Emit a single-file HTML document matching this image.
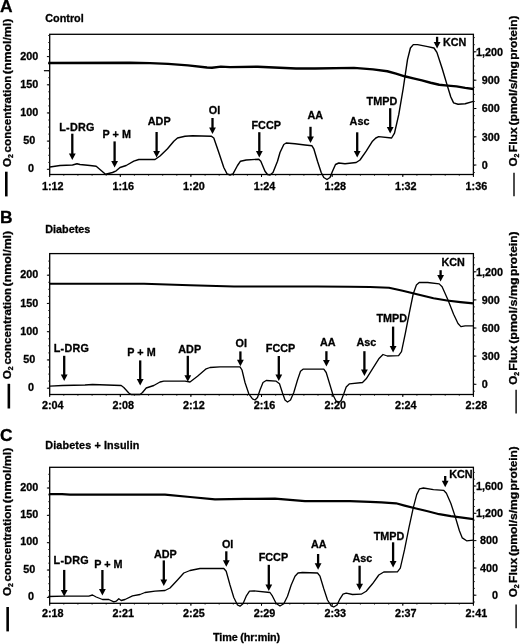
<!DOCTYPE html>
<html><head><meta charset="utf-8"><title>Figure</title>
<style>
html,body{margin:0;padding:0;background:#fff;}
svg{display:block;font-family:"Liberation Sans",Arial,Helvetica,sans-serif;font-weight:bold;fill:#000;}
text{stroke:#000;stroke-width:0.3px;stroke-linejoin:round;}
</style></head><body>
<svg width="520" height="644" viewBox="0 0 520 644">
<rect width="520" height="644" fill="#fff"/>
<text x="0.1" y="12.1" font-size="17.4">A</text>
<text x="45.3" y="22.29" text-anchor="start" font-size="10.8" >Control</text>
<rect x="49.7" y="34.3" width="423.7" height="140.2" fill="none" stroke="#000" stroke-width="1.3"/>
<line x1="46.900000000000006" y1="56.6" x2="49.7" y2="56.6" stroke="#000" stroke-width="1"/>
<text x="29.2" y="59.69" text-anchor="middle" font-size="10.8" >200</text>
<line x1="46.900000000000006" y1="84.8" x2="49.7" y2="84.8" stroke="#000" stroke-width="1"/>
<text x="29.2" y="87.89" text-anchor="middle" font-size="10.8" >150</text>
<line x1="46.900000000000006" y1="112.95" x2="49.7" y2="112.95" stroke="#000" stroke-width="1"/>
<text x="29.2" y="116.04" text-anchor="middle" font-size="10.8" >100</text>
<line x1="46.900000000000006" y1="141.1" x2="49.7" y2="141.1" stroke="#000" stroke-width="1"/>
<text x="29.2" y="144.19" text-anchor="middle" font-size="10.8" >50</text>
<line x1="46.900000000000006" y1="169.3" x2="49.7" y2="169.3" stroke="#000" stroke-width="1"/>
<text x="30.9" y="172.39" text-anchor="middle" font-size="10.8" >0</text>
<line x1="48.1" y1="35.5" x2="49.7" y2="35.5" stroke="#222" stroke-width="0.8"/>
<line x1="48.1" y1="42.5" x2="49.7" y2="42.5" stroke="#222" stroke-width="0.8"/>
<line x1="48.1" y1="49.5" x2="49.7" y2="49.5" stroke="#222" stroke-width="0.8"/>
<line x1="48.1" y1="56.6" x2="49.7" y2="56.6" stroke="#222" stroke-width="0.8"/>
<line x1="48.1" y1="63.6" x2="49.7" y2="63.6" stroke="#222" stroke-width="0.8"/>
<line x1="48.1" y1="70.7" x2="49.7" y2="70.7" stroke="#222" stroke-width="0.8"/>
<line x1="48.1" y1="77.7" x2="49.7" y2="77.7" stroke="#222" stroke-width="0.8"/>
<line x1="48.1" y1="84.8" x2="49.7" y2="84.8" stroke="#222" stroke-width="0.8"/>
<line x1="48.1" y1="91.8" x2="49.7" y2="91.8" stroke="#222" stroke-width="0.8"/>
<line x1="48.1" y1="98.9" x2="49.7" y2="98.9" stroke="#222" stroke-width="0.8"/>
<line x1="48.1" y1="105.9" x2="49.7" y2="105.9" stroke="#222" stroke-width="0.8"/>
<line x1="48.1" y1="113.0" x2="49.7" y2="113.0" stroke="#222" stroke-width="0.8"/>
<line x1="48.1" y1="120.0" x2="49.7" y2="120.0" stroke="#222" stroke-width="0.8"/>
<line x1="48.1" y1="127.1" x2="49.7" y2="127.1" stroke="#222" stroke-width="0.8"/>
<line x1="48.1" y1="134.1" x2="49.7" y2="134.1" stroke="#222" stroke-width="0.8"/>
<line x1="48.1" y1="141.2" x2="49.7" y2="141.2" stroke="#222" stroke-width="0.8"/>
<line x1="48.1" y1="148.2" x2="49.7" y2="148.2" stroke="#222" stroke-width="0.8"/>
<line x1="48.1" y1="155.3" x2="49.7" y2="155.3" stroke="#222" stroke-width="0.8"/>
<line x1="48.1" y1="162.4" x2="49.7" y2="162.4" stroke="#222" stroke-width="0.8"/>
<line x1="48.1" y1="169.4" x2="49.7" y2="169.4" stroke="#222" stroke-width="0.8"/>
<line x1="473.4" y1="51.8" x2="476.4" y2="51.8" stroke="#000" stroke-width="1"/>
<text x="476.0" y="55.69" text-anchor="start" font-size="10.8" >1,200</text>
<line x1="473.4" y1="80.2" x2="476.4" y2="80.2" stroke="#000" stroke-width="1"/>
<text x="481.7" y="84.09" text-anchor="start" font-size="10.8" >900</text>
<line x1="473.4" y1="108.5" x2="476.4" y2="108.5" stroke="#000" stroke-width="1"/>
<text x="481.7" y="112.39" text-anchor="start" font-size="10.8" >600</text>
<line x1="473.4" y1="136.8" x2="476.4" y2="136.8" stroke="#000" stroke-width="1"/>
<text x="481.7" y="140.69" text-anchor="start" font-size="10.8" >300</text>
<line x1="473.4" y1="165" x2="476.4" y2="165" stroke="#000" stroke-width="1"/>
<text x="481.7" y="168.89" text-anchor="start" font-size="10.8" >0</text>
<line x1="473.4" y1="37.6" x2="475.0" y2="37.6" stroke="#222" stroke-width="0.8"/>
<line x1="473.4" y1="44.7" x2="475.0" y2="44.7" stroke="#222" stroke-width="0.8"/>
<line x1="473.4" y1="51.8" x2="475.0" y2="51.8" stroke="#222" stroke-width="0.8"/>
<line x1="473.4" y1="58.9" x2="475.0" y2="58.9" stroke="#222" stroke-width="0.8"/>
<line x1="473.4" y1="66.0" x2="475.0" y2="66.0" stroke="#222" stroke-width="0.8"/>
<line x1="473.4" y1="73.1" x2="475.0" y2="73.1" stroke="#222" stroke-width="0.8"/>
<line x1="473.4" y1="80.2" x2="475.0" y2="80.2" stroke="#222" stroke-width="0.8"/>
<line x1="473.4" y1="87.3" x2="475.0" y2="87.3" stroke="#222" stroke-width="0.8"/>
<line x1="473.4" y1="94.4" x2="475.0" y2="94.4" stroke="#222" stroke-width="0.8"/>
<line x1="473.4" y1="101.5" x2="475.0" y2="101.5" stroke="#222" stroke-width="0.8"/>
<line x1="473.4" y1="108.6" x2="475.0" y2="108.6" stroke="#222" stroke-width="0.8"/>
<line x1="473.4" y1="115.7" x2="475.0" y2="115.7" stroke="#222" stroke-width="0.8"/>
<line x1="473.4" y1="122.8" x2="475.0" y2="122.8" stroke="#222" stroke-width="0.8"/>
<line x1="473.4" y1="129.9" x2="475.0" y2="129.9" stroke="#222" stroke-width="0.8"/>
<line x1="473.4" y1="137.0" x2="475.0" y2="137.0" stroke="#222" stroke-width="0.8"/>
<line x1="473.4" y1="144.1" x2="475.0" y2="144.1" stroke="#222" stroke-width="0.8"/>
<line x1="473.4" y1="151.2" x2="475.0" y2="151.2" stroke="#222" stroke-width="0.8"/>
<line x1="473.4" y1="158.3" x2="475.0" y2="158.3" stroke="#222" stroke-width="0.8"/>
<line x1="473.4" y1="165.4" x2="475.0" y2="165.4" stroke="#222" stroke-width="0.8"/>
<line x1="473.4" y1="172.5" x2="475.0" y2="172.5" stroke="#222" stroke-width="0.8"/>
<line x1="49.7" y1="174.5" x2="49.7" y2="177.0" stroke="#000" stroke-width="1"/>
<text x="52.7" y="189.69" text-anchor="middle" font-size="10.8" >1:12</text>
<line x1="120.3" y1="174.5" x2="120.3" y2="177.0" stroke="#000" stroke-width="1"/>
<text x="123.3" y="189.69" text-anchor="middle" font-size="10.8" >1:16</text>
<line x1="190.9" y1="174.5" x2="190.9" y2="177.0" stroke="#000" stroke-width="1"/>
<text x="193.9" y="189.69" text-anchor="middle" font-size="10.8" >1:20</text>
<line x1="261.5" y1="174.5" x2="261.5" y2="177.0" stroke="#000" stroke-width="1"/>
<text x="264.5" y="189.69" text-anchor="middle" font-size="10.8" >1:24</text>
<line x1="332.2" y1="174.5" x2="332.2" y2="177.0" stroke="#000" stroke-width="1"/>
<text x="335.2" y="189.69" text-anchor="middle" font-size="10.8" >1:28</text>
<line x1="402.8" y1="174.5" x2="402.8" y2="177.0" stroke="#000" stroke-width="1"/>
<text x="405.8" y="189.69" text-anchor="middle" font-size="10.8" >1:32</text>
<line x1="473.4" y1="174.5" x2="473.4" y2="177.0" stroke="#000" stroke-width="1"/>
<text x="476.4" y="189.69" text-anchor="middle" font-size="10.8" >1:36</text>
<line x1="49.7" y1="174.5" x2="49.7" y2="176.0" stroke="#000" stroke-width="0.6"/>
<line x1="63.8" y1="174.5" x2="63.8" y2="176.0" stroke="#000" stroke-width="0.6"/>
<line x1="77.9" y1="174.5" x2="77.9" y2="176.0" stroke="#000" stroke-width="0.6"/>
<line x1="92.1" y1="174.5" x2="92.1" y2="176.0" stroke="#000" stroke-width="0.6"/>
<line x1="106.2" y1="174.5" x2="106.2" y2="176.0" stroke="#000" stroke-width="0.6"/>
<line x1="120.3" y1="174.5" x2="120.3" y2="176.0" stroke="#000" stroke-width="0.6"/>
<line x1="134.4" y1="174.5" x2="134.4" y2="176.0" stroke="#000" stroke-width="0.6"/>
<line x1="148.6" y1="174.5" x2="148.6" y2="176.0" stroke="#000" stroke-width="0.6"/>
<line x1="162.7" y1="174.5" x2="162.7" y2="176.0" stroke="#000" stroke-width="0.6"/>
<line x1="176.8" y1="174.5" x2="176.8" y2="176.0" stroke="#000" stroke-width="0.6"/>
<line x1="190.9" y1="174.5" x2="190.9" y2="176.0" stroke="#000" stroke-width="0.6"/>
<line x1="205.1" y1="174.5" x2="205.1" y2="176.0" stroke="#000" stroke-width="0.6"/>
<line x1="219.2" y1="174.5" x2="219.2" y2="176.0" stroke="#000" stroke-width="0.6"/>
<line x1="233.3" y1="174.5" x2="233.3" y2="176.0" stroke="#000" stroke-width="0.6"/>
<line x1="247.4" y1="174.5" x2="247.4" y2="176.0" stroke="#000" stroke-width="0.6"/>
<line x1="261.6" y1="174.5" x2="261.6" y2="176.0" stroke="#000" stroke-width="0.6"/>
<line x1="275.7" y1="174.5" x2="275.7" y2="176.0" stroke="#000" stroke-width="0.6"/>
<line x1="289.8" y1="174.5" x2="289.8" y2="176.0" stroke="#000" stroke-width="0.6"/>
<line x1="303.9" y1="174.5" x2="303.9" y2="176.0" stroke="#000" stroke-width="0.6"/>
<line x1="318.0" y1="174.5" x2="318.0" y2="176.0" stroke="#000" stroke-width="0.6"/>
<line x1="332.2" y1="174.5" x2="332.2" y2="176.0" stroke="#000" stroke-width="0.6"/>
<line x1="346.3" y1="174.5" x2="346.3" y2="176.0" stroke="#000" stroke-width="0.6"/>
<line x1="360.4" y1="174.5" x2="360.4" y2="176.0" stroke="#000" stroke-width="0.6"/>
<line x1="374.5" y1="174.5" x2="374.5" y2="176.0" stroke="#000" stroke-width="0.6"/>
<line x1="388.7" y1="174.5" x2="388.7" y2="176.0" stroke="#000" stroke-width="0.6"/>
<line x1="402.8" y1="174.5" x2="402.8" y2="176.0" stroke="#000" stroke-width="0.6"/>
<line x1="416.9" y1="174.5" x2="416.9" y2="176.0" stroke="#000" stroke-width="0.6"/>
<line x1="431.0" y1="174.5" x2="431.0" y2="176.0" stroke="#000" stroke-width="0.6"/>
<line x1="445.2" y1="174.5" x2="445.2" y2="176.0" stroke="#000" stroke-width="0.6"/>
<line x1="459.3" y1="174.5" x2="459.3" y2="176.0" stroke="#000" stroke-width="0.6"/>
<line x1="473.4" y1="174.5" x2="473.4" y2="176.0" stroke="#000" stroke-width="0.6"/>
<polyline points="48.2,62.9 130.0,62.7 150.0,63.1 168.0,63.9 188.0,65.4 207.0,67.5 212.0,67.8 221.0,66.6 230.0,67.1 257.7,66.7 296.0,68.5 315.0,68.5 354.0,67.9 373.0,69.4 387.3,71.2 396.0,73.6 404.6,76.3 413.3,78.4 421.9,80.4 430.6,82.7 439.2,84.7 447.9,85.6 456.5,86.4 465.2,87.9 473.3,89.0" fill="none" stroke="#000" stroke-width="2.45" stroke-linejoin="round"/>
<polyline points="50.0,167.0 60.0,165.5 72.5,165.0 77.0,163.8 80.0,164.5 90.0,165.5 96.2,166.2 105.5,174.2 112.5,172.5 116.2,170.8 120.0,167.5 126.2,165.5 133.8,161.2 138.8,159.5 155.0,159.5 160.0,156.0 167.5,148.8 173.8,141.2 177.5,138.0 185.0,136.2 192.5,135.8 211.2,136.2 213.8,138.0 218.8,152.5 223.8,167.5 227.0,173.8 230.0,175.0 233.0,173.8 237.5,165.5 240.5,161.2 246.2,160.0 258.8,159.2 260.8,161.2 265.0,171.2 267.5,174.5 270.0,175.0 273.0,172.5 277.5,161.2 280.0,152.5 283.8,144.5 286.2,143.0 295.0,143.8 305.0,145.0 312.0,145.8 313.8,148.8 317.5,161.2 321.2,172.5 323.8,177.5 327.0,179.5 330.0,177.5 332.5,171.2 335.5,164.5 338.8,163.0 345.0,163.8 356.2,162.5 360.0,160.0 366.2,151.2 372.5,141.2 375.8,138.0 378.7,136.6 391.6,138.0 394.5,133.2 398.8,114.4 403.2,88.5 407.5,59.6 410.4,48.0 413.3,44.6 417.6,44.6 427.7,46.6 434.0,48.0 436.9,52.4 442.1,68.3 447.3,85.6 450.8,97.0 453.6,102.9 458.0,104.3 465.2,103.7 473.3,101.4" fill="none" stroke="#000" stroke-width="1.42" stroke-linejoin="round"/>
<text x="76.9" y="130.89" text-anchor="middle" font-size="10.8" letter-spacing="0.2">L-DRG</text>
<line x1="72.3" y1="133.7" x2="72.3" y2="155.4" stroke="#000" stroke-width="2.3"/><polygon points="68.89999999999999,153.50 75.7,153.50 72.3,160.00" fill="#000"/>
<text x="116.75" y="138.39" text-anchor="middle" font-size="10.8" >P + M</text>
<line x1="114.6" y1="141.4" x2="114.6" y2="162.8" stroke="#000" stroke-width="2.3"/><polygon points="111.19999999999999,160.90 118.0,160.90 114.6,167.40" fill="#000"/>
<text x="159.2" y="124.59" text-anchor="middle" font-size="10.8" >ADP</text>
<line x1="156.6" y1="132" x2="156.6" y2="153" stroke="#000" stroke-width="2.3"/><polygon points="153.2,151.10 160.0,151.10 156.6,157.60" fill="#000"/>
<text x="214.5" y="114.39" text-anchor="middle" font-size="10.8" >OI</text>
<line x1="212.5" y1="118" x2="212.5" y2="129.5" stroke="#000" stroke-width="2.3"/><polygon points="209.1,127.60 215.9,127.60 212.5,134.10" fill="#000"/>
<text x="266.2" y="128.69" text-anchor="middle" font-size="10.8" >FCCP</text>
<line x1="259.3" y1="132.2" x2="259.3" y2="152.9" stroke="#000" stroke-width="2.3"/><polygon points="255.9,151.00 262.7,151.00 259.3,157.50" fill="#000"/>
<text x="315.2" y="119.49" text-anchor="middle" font-size="10.8" >AA</text>
<line x1="310.5" y1="126.8" x2="310.5" y2="138.3" stroke="#000" stroke-width="2.3"/><polygon points="307.1,136.40 313.9,136.40 310.5,142.90" fill="#000"/>
<text x="359.5" y="124.59" text-anchor="middle" font-size="10.8" >Asc</text>
<line x1="357.2" y1="132.3" x2="357.2" y2="152.9" stroke="#000" stroke-width="2.3"/><polygon points="353.8,151.00 360.59999999999997,151.00 357.2,157.50" fill="#000"/>
<text x="381.9" y="105.09" text-anchor="middle" font-size="10.8" >TMPD</text>
<line x1="390.2" y1="108.2" x2="390.2" y2="128.8" stroke="#000" stroke-width="2.3"/><polygon points="386.8,126.90 393.59999999999997,126.90 390.2,133.40" fill="#000"/>
<text x="443" y="45.79" text-anchor="start" font-size="10.8" >KCN</text>
<line x1="437.1" y1="36.8" x2="437.1" y2="43.8" stroke="#000" stroke-width="2.3"/><polygon points="433.70000000000005,41.90 440.5,41.90 437.1,48.40" fill="#000"/>
<text transform="translate(10.9,167.00) rotate(-90) scale(1.07,1)" font-size="10.8">O<tspan font-size="6.5" dy="2.2">2</tspan></text>
<text transform="translate(10.9,152.40) rotate(-90) scale(1.076,1)" font-size="10.8">concentration</text>
<text transform="translate(10.9,74.20) rotate(-90) scale(1.145,1)" font-size="10.8">(nmol/ml)</text>
<line x1="6.3" y1="171.7" x2="6.3" y2="196.4" stroke="#000" stroke-width="2.6"/>
<text transform="translate(517.1,166.60) rotate(-90) scale(1.07,1)" font-size="10.8">O<tspan font-size="6.5" dy="2.2">2</tspan></text>
<text transform="translate(517.1,152.30) rotate(-90) scale(1.13,1)" font-size="10.8">Flux</text>
<text transform="translate(517.1,125.50) rotate(-90) scale(1.118,1)" font-size="10.8">(pmol/s/mg</text>
<text transform="translate(517.1,59.80) rotate(-90) scale(1.1,1)" font-size="10.8">protein)</text>
<line x1="514" y1="172.8" x2="514" y2="196.3" stroke="#000" stroke-width="1.4"/>
<line x1="43.9" y1="70.7" x2="49.7" y2="70.7" stroke="#000" stroke-width="1.2"/>
<text x="0.1" y="223.1" font-size="17.4">B</text>
<text x="45.3" y="232.89" text-anchor="start" font-size="10.8" >Diabetes</text>
<rect x="49.7" y="253.6" width="423.7" height="140.9" fill="none" stroke="#000" stroke-width="1.3"/>
<line x1="46.900000000000006" y1="275.2" x2="49.7" y2="275.2" stroke="#000" stroke-width="1"/>
<text x="29.2" y="278.39" text-anchor="middle" font-size="10.8" >200</text>
<line x1="46.900000000000006" y1="303.45" x2="49.7" y2="303.45" stroke="#000" stroke-width="1"/>
<text x="29.2" y="306.64" text-anchor="middle" font-size="10.8" >150</text>
<line x1="46.900000000000006" y1="331.7" x2="49.7" y2="331.7" stroke="#000" stroke-width="1"/>
<text x="29.2" y="334.89" text-anchor="middle" font-size="10.8" >100</text>
<line x1="46.900000000000006" y1="359.95" x2="49.7" y2="359.95" stroke="#000" stroke-width="1"/>
<text x="29.2" y="363.14" text-anchor="middle" font-size="10.8" >50</text>
<line x1="46.900000000000006" y1="388.2" x2="49.7" y2="388.2" stroke="#000" stroke-width="1"/>
<text x="30.9" y="391.39" text-anchor="middle" font-size="10.8" >0</text>
<line x1="48.1" y1="261.1" x2="49.7" y2="261.1" stroke="#222" stroke-width="0.8"/>
<line x1="48.1" y1="268.1" x2="49.7" y2="268.1" stroke="#222" stroke-width="0.8"/>
<line x1="48.1" y1="275.2" x2="49.7" y2="275.2" stroke="#222" stroke-width="0.8"/>
<line x1="48.1" y1="282.3" x2="49.7" y2="282.3" stroke="#222" stroke-width="0.8"/>
<line x1="48.1" y1="289.3" x2="49.7" y2="289.3" stroke="#222" stroke-width="0.8"/>
<line x1="48.1" y1="296.4" x2="49.7" y2="296.4" stroke="#222" stroke-width="0.8"/>
<line x1="48.1" y1="303.4" x2="49.7" y2="303.4" stroke="#222" stroke-width="0.8"/>
<line x1="48.1" y1="310.5" x2="49.7" y2="310.5" stroke="#222" stroke-width="0.8"/>
<line x1="48.1" y1="317.6" x2="49.7" y2="317.6" stroke="#222" stroke-width="0.8"/>
<line x1="48.1" y1="324.6" x2="49.7" y2="324.6" stroke="#222" stroke-width="0.8"/>
<line x1="48.1" y1="331.7" x2="49.7" y2="331.7" stroke="#222" stroke-width="0.8"/>
<line x1="48.1" y1="338.8" x2="49.7" y2="338.8" stroke="#222" stroke-width="0.8"/>
<line x1="48.1" y1="345.8" x2="49.7" y2="345.8" stroke="#222" stroke-width="0.8"/>
<line x1="48.1" y1="352.9" x2="49.7" y2="352.9" stroke="#222" stroke-width="0.8"/>
<line x1="48.1" y1="359.9" x2="49.7" y2="359.9" stroke="#222" stroke-width="0.8"/>
<line x1="48.1" y1="367.0" x2="49.7" y2="367.0" stroke="#222" stroke-width="0.8"/>
<line x1="48.1" y1="374.1" x2="49.7" y2="374.1" stroke="#222" stroke-width="0.8"/>
<line x1="48.1" y1="381.1" x2="49.7" y2="381.1" stroke="#222" stroke-width="0.8"/>
<line x1="48.1" y1="388.2" x2="49.7" y2="388.2" stroke="#222" stroke-width="0.8"/>
<line x1="473.4" y1="271.8" x2="476.4" y2="271.8" stroke="#000" stroke-width="1"/>
<text x="476.0" y="275.69" text-anchor="start" font-size="10.8" >1,200</text>
<line x1="473.4" y1="299.9" x2="476.4" y2="299.9" stroke="#000" stroke-width="1"/>
<text x="481.7" y="303.79" text-anchor="start" font-size="10.8" >900</text>
<line x1="473.4" y1="328" x2="476.4" y2="328" stroke="#000" stroke-width="1"/>
<text x="481.7" y="331.89" text-anchor="start" font-size="10.8" >600</text>
<line x1="473.4" y1="356.1" x2="476.4" y2="356.1" stroke="#000" stroke-width="1"/>
<text x="481.7" y="359.99" text-anchor="start" font-size="10.8" >300</text>
<line x1="473.4" y1="384.3" x2="476.4" y2="384.3" stroke="#000" stroke-width="1"/>
<text x="481.7" y="388.19" text-anchor="start" font-size="10.8" >0</text>
<line x1="473.4" y1="257.8" x2="475.0" y2="257.8" stroke="#222" stroke-width="0.8"/>
<line x1="473.4" y1="264.8" x2="475.0" y2="264.8" stroke="#222" stroke-width="0.8"/>
<line x1="473.4" y1="271.8" x2="475.0" y2="271.8" stroke="#222" stroke-width="0.8"/>
<line x1="473.4" y1="278.8" x2="475.0" y2="278.8" stroke="#222" stroke-width="0.8"/>
<line x1="473.4" y1="285.8" x2="475.0" y2="285.8" stroke="#222" stroke-width="0.8"/>
<line x1="473.4" y1="292.9" x2="475.0" y2="292.9" stroke="#222" stroke-width="0.8"/>
<line x1="473.4" y1="299.9" x2="475.0" y2="299.9" stroke="#222" stroke-width="0.8"/>
<line x1="473.4" y1="306.9" x2="475.0" y2="306.9" stroke="#222" stroke-width="0.8"/>
<line x1="473.4" y1="313.9" x2="475.0" y2="313.9" stroke="#222" stroke-width="0.8"/>
<line x1="473.4" y1="321.0" x2="475.0" y2="321.0" stroke="#222" stroke-width="0.8"/>
<line x1="473.4" y1="328.0" x2="475.0" y2="328.0" stroke="#222" stroke-width="0.8"/>
<line x1="473.4" y1="335.0" x2="475.0" y2="335.0" stroke="#222" stroke-width="0.8"/>
<line x1="473.4" y1="342.0" x2="475.0" y2="342.0" stroke="#222" stroke-width="0.8"/>
<line x1="473.4" y1="349.1" x2="475.0" y2="349.1" stroke="#222" stroke-width="0.8"/>
<line x1="473.4" y1="356.1" x2="475.0" y2="356.1" stroke="#222" stroke-width="0.8"/>
<line x1="473.4" y1="363.1" x2="475.0" y2="363.1" stroke="#222" stroke-width="0.8"/>
<line x1="473.4" y1="370.1" x2="475.0" y2="370.1" stroke="#222" stroke-width="0.8"/>
<line x1="473.4" y1="377.2" x2="475.0" y2="377.2" stroke="#222" stroke-width="0.8"/>
<line x1="473.4" y1="384.2" x2="475.0" y2="384.2" stroke="#222" stroke-width="0.8"/>
<line x1="473.4" y1="391.2" x2="475.0" y2="391.2" stroke="#222" stroke-width="0.8"/>
<line x1="49.7" y1="394.5" x2="49.7" y2="397.0" stroke="#000" stroke-width="1"/>
<text x="52.7" y="409.19" text-anchor="middle" font-size="10.8" >2:04</text>
<line x1="120.3" y1="394.5" x2="120.3" y2="397.0" stroke="#000" stroke-width="1"/>
<text x="123.3" y="409.19" text-anchor="middle" font-size="10.8" >2:08</text>
<line x1="190.9" y1="394.5" x2="190.9" y2="397.0" stroke="#000" stroke-width="1"/>
<text x="193.9" y="409.19" text-anchor="middle" font-size="10.8" >2:12</text>
<line x1="261.5" y1="394.5" x2="261.5" y2="397.0" stroke="#000" stroke-width="1"/>
<text x="264.5" y="409.19" text-anchor="middle" font-size="10.8" >2:16</text>
<line x1="332.2" y1="394.5" x2="332.2" y2="397.0" stroke="#000" stroke-width="1"/>
<text x="335.2" y="409.19" text-anchor="middle" font-size="10.8" >2:20</text>
<line x1="402.8" y1="394.5" x2="402.8" y2="397.0" stroke="#000" stroke-width="1"/>
<text x="405.8" y="409.19" text-anchor="middle" font-size="10.8" >2:24</text>
<line x1="473.4" y1="394.5" x2="473.4" y2="397.0" stroke="#000" stroke-width="1"/>
<text x="476.4" y="409.19" text-anchor="middle" font-size="10.8" >2:28</text>
<line x1="49.7" y1="394.5" x2="49.7" y2="396.0" stroke="#000" stroke-width="0.6"/>
<line x1="63.8" y1="394.5" x2="63.8" y2="396.0" stroke="#000" stroke-width="0.6"/>
<line x1="77.9" y1="394.5" x2="77.9" y2="396.0" stroke="#000" stroke-width="0.6"/>
<line x1="92.1" y1="394.5" x2="92.1" y2="396.0" stroke="#000" stroke-width="0.6"/>
<line x1="106.2" y1="394.5" x2="106.2" y2="396.0" stroke="#000" stroke-width="0.6"/>
<line x1="120.3" y1="394.5" x2="120.3" y2="396.0" stroke="#000" stroke-width="0.6"/>
<line x1="134.4" y1="394.5" x2="134.4" y2="396.0" stroke="#000" stroke-width="0.6"/>
<line x1="148.6" y1="394.5" x2="148.6" y2="396.0" stroke="#000" stroke-width="0.6"/>
<line x1="162.7" y1="394.5" x2="162.7" y2="396.0" stroke="#000" stroke-width="0.6"/>
<line x1="176.8" y1="394.5" x2="176.8" y2="396.0" stroke="#000" stroke-width="0.6"/>
<line x1="190.9" y1="394.5" x2="190.9" y2="396.0" stroke="#000" stroke-width="0.6"/>
<line x1="205.1" y1="394.5" x2="205.1" y2="396.0" stroke="#000" stroke-width="0.6"/>
<line x1="219.2" y1="394.5" x2="219.2" y2="396.0" stroke="#000" stroke-width="0.6"/>
<line x1="233.3" y1="394.5" x2="233.3" y2="396.0" stroke="#000" stroke-width="0.6"/>
<line x1="247.4" y1="394.5" x2="247.4" y2="396.0" stroke="#000" stroke-width="0.6"/>
<line x1="261.6" y1="394.5" x2="261.6" y2="396.0" stroke="#000" stroke-width="0.6"/>
<line x1="275.7" y1="394.5" x2="275.7" y2="396.0" stroke="#000" stroke-width="0.6"/>
<line x1="289.8" y1="394.5" x2="289.8" y2="396.0" stroke="#000" stroke-width="0.6"/>
<line x1="303.9" y1="394.5" x2="303.9" y2="396.0" stroke="#000" stroke-width="0.6"/>
<line x1="318.0" y1="394.5" x2="318.0" y2="396.0" stroke="#000" stroke-width="0.6"/>
<line x1="332.2" y1="394.5" x2="332.2" y2="396.0" stroke="#000" stroke-width="0.6"/>
<line x1="346.3" y1="394.5" x2="346.3" y2="396.0" stroke="#000" stroke-width="0.6"/>
<line x1="360.4" y1="394.5" x2="360.4" y2="396.0" stroke="#000" stroke-width="0.6"/>
<line x1="374.5" y1="394.5" x2="374.5" y2="396.0" stroke="#000" stroke-width="0.6"/>
<line x1="388.7" y1="394.5" x2="388.7" y2="396.0" stroke="#000" stroke-width="0.6"/>
<line x1="402.8" y1="394.5" x2="402.8" y2="396.0" stroke="#000" stroke-width="0.6"/>
<line x1="416.9" y1="394.5" x2="416.9" y2="396.0" stroke="#000" stroke-width="0.6"/>
<line x1="431.0" y1="394.5" x2="431.0" y2="396.0" stroke="#000" stroke-width="0.6"/>
<line x1="445.2" y1="394.5" x2="445.2" y2="396.0" stroke="#000" stroke-width="0.6"/>
<line x1="459.3" y1="394.5" x2="459.3" y2="396.0" stroke="#000" stroke-width="0.6"/>
<line x1="473.4" y1="394.5" x2="473.4" y2="396.0" stroke="#000" stroke-width="0.6"/>
<polyline points="49.0,283.7 144.0,283.7 190.0,285.2 234.0,286.5 317.0,286.5 350.0,286.8 370.0,287.0 389.0,287.8 402.7,290.8 418.0,294.5 433.5,298.2 447.0,300.5 460.4,302.1 473.4,303.4" fill="none" stroke="#000" stroke-width="2.15" stroke-linejoin="round"/>
<polyline points="50.0,386.2 62.5,385.5 85.0,385.0 92.5,384.5 121.2,385.5 123.8,387.5 128.8,393.0 131.2,394.5 140.0,394.5 142.5,392.5 146.2,388.0 153.8,385.5 160.0,382.0 163.8,381.2 185.0,381.2 190.0,382.0 197.5,376.2 206.2,368.8 210.0,367.5 220.0,366.8 240.0,366.8 242.0,370.0 245.0,382.5 248.8,393.8 252.5,398.8 255.0,400.0 257.5,397.5 260.0,390.0 263.0,382.5 266.2,380.5 276.2,381.2 279.5,383.8 282.5,393.0 285.0,400.0 287.5,402.0 290.5,400.0 293.8,392.5 297.5,380.0 300.5,371.2 303.0,369.2 323.8,369.2 326.2,372.5 330.0,385.0 333.0,395.0 336.2,401.2 338.8,402.5 341.2,400.5 343.8,393.8 346.2,387.0 349.5,383.8 362.5,382.5 366.2,378.8 372.5,368.8 378.8,358.8 383.0,354.5 387.3,356.0 398.6,355.6 401.5,351.6 405.4,333.0 409.3,313.0 413.2,294.0 416.4,285.0 419.2,282.5 427.7,282.5 439.2,283.9 442.1,286.8 447.9,299.8 453.6,314.2 458.0,323.5 460.9,326.6 465.2,325.8 473.3,325.8" fill="none" stroke="#000" stroke-width="1.32" stroke-linejoin="round"/>
<text x="71.4" y="351.59" text-anchor="middle" font-size="10.8" letter-spacing="0.2">L-DRG</text>
<line x1="64.2" y1="355.8" x2="64.2" y2="376.5" stroke="#000" stroke-width="2.3"/><polygon points="60.800000000000004,374.60 67.60000000000001,374.60 64.2,381.10" fill="#000"/>
<text x="141.5" y="355.89" text-anchor="middle" font-size="10.8" >P + M</text>
<line x1="140.2" y1="360.4" x2="140.2" y2="381" stroke="#000" stroke-width="2.3"/><polygon points="136.79999999999998,379.10 143.6,379.10 140.2,385.60" fill="#000"/>
<text x="189.7" y="352.79" text-anchor="middle" font-size="10.8" >ADP</text>
<line x1="187.8" y1="355.8" x2="187.8" y2="377.2" stroke="#000" stroke-width="2.3"/><polygon points="184.4,375.30 191.20000000000002,375.30 187.8,381.80" fill="#000"/>
<text x="241.3" y="346.89" text-anchor="middle" font-size="10.8" >OI</text>
<line x1="240.4" y1="351.4" x2="240.4" y2="361.7" stroke="#000" stroke-width="2.3"/><polygon points="237.0,359.80 243.8,359.80 240.4,366.30" fill="#000"/>
<text x="280.5" y="351.59" text-anchor="middle" font-size="10.8" >FCCP</text>
<line x1="278.8" y1="356" x2="278.8" y2="376.5" stroke="#000" stroke-width="2.3"/><polygon points="275.40000000000003,374.60 282.2,374.60 278.8,381.10" fill="#000"/>
<text x="327.8" y="346.39" text-anchor="middle" font-size="10.8" >AA</text>
<line x1="326.4" y1="351.2" x2="326.4" y2="361.8" stroke="#000" stroke-width="2.3"/><polygon points="323.0,359.90 329.79999999999995,359.90 326.4,366.40" fill="#000"/>
<text x="366.4" y="345.89" text-anchor="middle" font-size="10.8" >Asc</text>
<line x1="364.4" y1="351.2" x2="364.4" y2="371.5" stroke="#000" stroke-width="2.3"/><polygon points="361.0,369.60 367.79999999999995,369.60 364.4,376.10" fill="#000"/>
<text x="391.8" y="321.89" text-anchor="middle" font-size="10.8" >TMPD</text>
<line x1="393.1" y1="326.6" x2="393.1" y2="348" stroke="#000" stroke-width="2.3"/><polygon points="389.70000000000005,346.10 396.5,346.10 393.1,352.60" fill="#000"/>
<text x="441.5" y="266.19" text-anchor="start" font-size="10.8" >KCN</text>
<line x1="440.6" y1="270.2" x2="440.6" y2="277" stroke="#000" stroke-width="2.3"/><polygon points="437.20000000000005,275.10 444.0,275.10 440.6,281.60" fill="#000"/>
<text transform="translate(10.9,379.20) rotate(-90) scale(1.07,1)" font-size="10.8">O<tspan font-size="6.5" dy="2.2">2</tspan></text>
<text transform="translate(10.9,364.60) rotate(-90) scale(1.076,1)" font-size="10.8">concentration</text>
<text transform="translate(10.9,286.40) rotate(-90) scale(1.145,1)" font-size="10.8">(nmol/ml)</text>
<line x1="8.85" y1="383.8" x2="8.85" y2="408.5" stroke="#000" stroke-width="2.6"/>
<text transform="translate(517.1,384.70) rotate(-90) scale(1.07,1)" font-size="10.8">O<tspan font-size="6.5" dy="2.2">2</tspan></text>
<text transform="translate(517.1,370.80) rotate(-90) scale(1.13,1)" font-size="10.8">Flux</text>
<text transform="translate(517.1,343.80) rotate(-90) scale(1.153,1)" font-size="10.8">(pmol/s/mg</text>
<text transform="translate(517.1,276.10) rotate(-90) scale(1.11,1)" font-size="10.8">protein)</text>
<line x1="516.1" y1="389.7" x2="516.1" y2="413.4" stroke="#000" stroke-width="1.4"/>

<text x="0.1" y="440.9" font-size="17.4">C</text>
<text x="45.3" y="448.89" text-anchor="start" font-size="10.8" letter-spacing="0.12">Diabetes + Insulin</text>
<rect x="49.7" y="467.3" width="423.7" height="135.99999999999994" fill="none" stroke="#000" stroke-width="1.3"/>
<line x1="46.900000000000006" y1="488" x2="49.7" y2="488" stroke="#000" stroke-width="1"/>
<text x="29.2" y="490.69" text-anchor="middle" font-size="10.8" >200</text>
<line x1="46.900000000000006" y1="515.35" x2="49.7" y2="515.35" stroke="#000" stroke-width="1"/>
<text x="29.2" y="518.04" text-anchor="middle" font-size="10.8" >150</text>
<line x1="46.900000000000006" y1="542.7" x2="49.7" y2="542.7" stroke="#000" stroke-width="1"/>
<text x="29.2" y="545.39" text-anchor="middle" font-size="10.8" >100</text>
<line x1="46.900000000000006" y1="570.05" x2="49.7" y2="570.05" stroke="#000" stroke-width="1"/>
<text x="29.2" y="572.74" text-anchor="middle" font-size="10.8" >50</text>
<line x1="46.900000000000006" y1="597.4" x2="49.7" y2="597.4" stroke="#000" stroke-width="1"/>
<text x="30.9" y="600.09" text-anchor="middle" font-size="10.8" >0</text>
<line x1="48.1" y1="474.3" x2="49.7" y2="474.3" stroke="#222" stroke-width="0.8"/>
<line x1="48.1" y1="481.2" x2="49.7" y2="481.2" stroke="#222" stroke-width="0.8"/>
<line x1="48.1" y1="488.0" x2="49.7" y2="488.0" stroke="#222" stroke-width="0.8"/>
<line x1="48.1" y1="494.8" x2="49.7" y2="494.8" stroke="#222" stroke-width="0.8"/>
<line x1="48.1" y1="501.7" x2="49.7" y2="501.7" stroke="#222" stroke-width="0.8"/>
<line x1="48.1" y1="508.5" x2="49.7" y2="508.5" stroke="#222" stroke-width="0.8"/>
<line x1="48.1" y1="515.3" x2="49.7" y2="515.3" stroke="#222" stroke-width="0.8"/>
<line x1="48.1" y1="522.2" x2="49.7" y2="522.2" stroke="#222" stroke-width="0.8"/>
<line x1="48.1" y1="529.0" x2="49.7" y2="529.0" stroke="#222" stroke-width="0.8"/>
<line x1="48.1" y1="535.9" x2="49.7" y2="535.9" stroke="#222" stroke-width="0.8"/>
<line x1="48.1" y1="542.7" x2="49.7" y2="542.7" stroke="#222" stroke-width="0.8"/>
<line x1="48.1" y1="549.5" x2="49.7" y2="549.5" stroke="#222" stroke-width="0.8"/>
<line x1="48.1" y1="556.4" x2="49.7" y2="556.4" stroke="#222" stroke-width="0.8"/>
<line x1="48.1" y1="563.2" x2="49.7" y2="563.2" stroke="#222" stroke-width="0.8"/>
<line x1="48.1" y1="570.0" x2="49.7" y2="570.0" stroke="#222" stroke-width="0.8"/>
<line x1="48.1" y1="576.9" x2="49.7" y2="576.9" stroke="#222" stroke-width="0.8"/>
<line x1="48.1" y1="583.7" x2="49.7" y2="583.7" stroke="#222" stroke-width="0.8"/>
<line x1="48.1" y1="590.6" x2="49.7" y2="590.6" stroke="#222" stroke-width="0.8"/>
<line x1="48.1" y1="597.4" x2="49.7" y2="597.4" stroke="#222" stroke-width="0.8"/>
<line x1="473.4" y1="486" x2="476.4" y2="486" stroke="#000" stroke-width="1"/>
<text x="476.0" y="489.89" text-anchor="start" font-size="10.8" >1,600</text>
<line x1="473.4" y1="513.3" x2="476.4" y2="513.3" stroke="#000" stroke-width="1"/>
<text x="476.0" y="517.19" text-anchor="start" font-size="10.8" >1,200</text>
<line x1="473.4" y1="540.6" x2="476.4" y2="540.6" stroke="#000" stroke-width="1"/>
<text x="497.9" y="544.49" text-anchor="end" font-size="10.8" >800</text>
<line x1="473.4" y1="568" x2="476.4" y2="568" stroke="#000" stroke-width="1"/>
<text x="497.9" y="571.89" text-anchor="end" font-size="10.8" >400</text>
<line x1="473.4" y1="595.2" x2="476.4" y2="595.2" stroke="#000" stroke-width="1"/>
<text x="497.9" y="599.09" text-anchor="end" font-size="10.8" >0</text>
<line x1="473.4" y1="472.4" x2="475.0" y2="472.4" stroke="#222" stroke-width="0.8"/>
<line x1="473.4" y1="479.2" x2="475.0" y2="479.2" stroke="#222" stroke-width="0.8"/>
<line x1="473.4" y1="486.0" x2="475.0" y2="486.0" stroke="#222" stroke-width="0.8"/>
<line x1="473.4" y1="492.8" x2="475.0" y2="492.8" stroke="#222" stroke-width="0.8"/>
<line x1="473.4" y1="499.6" x2="475.0" y2="499.6" stroke="#222" stroke-width="0.8"/>
<line x1="473.4" y1="506.5" x2="475.0" y2="506.5" stroke="#222" stroke-width="0.8"/>
<line x1="473.4" y1="513.3" x2="475.0" y2="513.3" stroke="#222" stroke-width="0.8"/>
<line x1="473.4" y1="520.1" x2="475.0" y2="520.1" stroke="#222" stroke-width="0.8"/>
<line x1="473.4" y1="527.0" x2="475.0" y2="527.0" stroke="#222" stroke-width="0.8"/>
<line x1="473.4" y1="533.8" x2="475.0" y2="533.8" stroke="#222" stroke-width="0.8"/>
<line x1="473.4" y1="540.6" x2="475.0" y2="540.6" stroke="#222" stroke-width="0.8"/>
<line x1="473.4" y1="547.4" x2="475.0" y2="547.4" stroke="#222" stroke-width="0.8"/>
<line x1="473.4" y1="554.3" x2="475.0" y2="554.3" stroke="#222" stroke-width="0.8"/>
<line x1="473.4" y1="561.1" x2="475.0" y2="561.1" stroke="#222" stroke-width="0.8"/>
<line x1="473.4" y1="567.9" x2="475.0" y2="567.9" stroke="#222" stroke-width="0.8"/>
<line x1="473.4" y1="574.7" x2="475.0" y2="574.7" stroke="#222" stroke-width="0.8"/>
<line x1="473.4" y1="581.6" x2="475.0" y2="581.6" stroke="#222" stroke-width="0.8"/>
<line x1="473.4" y1="588.4" x2="475.0" y2="588.4" stroke="#222" stroke-width="0.8"/>
<line x1="473.4" y1="595.2" x2="475.0" y2="595.2" stroke="#222" stroke-width="0.8"/>
<line x1="473.4" y1="602.0" x2="475.0" y2="602.0" stroke="#222" stroke-width="0.8"/>
<line x1="49.7" y1="603.3" x2="49.7" y2="605.8" stroke="#000" stroke-width="1"/>
<text x="52.7" y="617.39" text-anchor="middle" font-size="10.8" >2:18</text>
<line x1="120.3" y1="603.3" x2="120.3" y2="605.8" stroke="#000" stroke-width="1"/>
<text x="123.3" y="617.39" text-anchor="middle" font-size="10.8" >2:21</text>
<line x1="190.9" y1="603.3" x2="190.9" y2="605.8" stroke="#000" stroke-width="1"/>
<text x="193.9" y="617.39" text-anchor="middle" font-size="10.8" >2:25</text>
<line x1="261.5" y1="603.3" x2="261.5" y2="605.8" stroke="#000" stroke-width="1"/>
<text x="264.5" y="617.39" text-anchor="middle" font-size="10.8" >2:29</text>
<line x1="332.2" y1="603.3" x2="332.2" y2="605.8" stroke="#000" stroke-width="1"/>
<text x="335.2" y="617.39" text-anchor="middle" font-size="10.8" >2:33</text>
<line x1="402.8" y1="603.3" x2="402.8" y2="605.8" stroke="#000" stroke-width="1"/>
<text x="405.8" y="617.39" text-anchor="middle" font-size="10.8" >2:37</text>
<line x1="473.4" y1="603.3" x2="473.4" y2="605.8" stroke="#000" stroke-width="1"/>
<text x="476.4" y="617.39" text-anchor="middle" font-size="10.8" >2:41</text>
<line x1="49.7" y1="603.3" x2="49.7" y2="604.8" stroke="#000" stroke-width="0.6"/>
<line x1="63.8" y1="603.3" x2="63.8" y2="604.8" stroke="#000" stroke-width="0.6"/>
<line x1="77.9" y1="603.3" x2="77.9" y2="604.8" stroke="#000" stroke-width="0.6"/>
<line x1="92.1" y1="603.3" x2="92.1" y2="604.8" stroke="#000" stroke-width="0.6"/>
<line x1="106.2" y1="603.3" x2="106.2" y2="604.8" stroke="#000" stroke-width="0.6"/>
<line x1="120.3" y1="603.3" x2="120.3" y2="604.8" stroke="#000" stroke-width="0.6"/>
<line x1="134.4" y1="603.3" x2="134.4" y2="604.8" stroke="#000" stroke-width="0.6"/>
<line x1="148.6" y1="603.3" x2="148.6" y2="604.8" stroke="#000" stroke-width="0.6"/>
<line x1="162.7" y1="603.3" x2="162.7" y2="604.8" stroke="#000" stroke-width="0.6"/>
<line x1="176.8" y1="603.3" x2="176.8" y2="604.8" stroke="#000" stroke-width="0.6"/>
<line x1="190.9" y1="603.3" x2="190.9" y2="604.8" stroke="#000" stroke-width="0.6"/>
<line x1="205.1" y1="603.3" x2="205.1" y2="604.8" stroke="#000" stroke-width="0.6"/>
<line x1="219.2" y1="603.3" x2="219.2" y2="604.8" stroke="#000" stroke-width="0.6"/>
<line x1="233.3" y1="603.3" x2="233.3" y2="604.8" stroke="#000" stroke-width="0.6"/>
<line x1="247.4" y1="603.3" x2="247.4" y2="604.8" stroke="#000" stroke-width="0.6"/>
<line x1="261.6" y1="603.3" x2="261.6" y2="604.8" stroke="#000" stroke-width="0.6"/>
<line x1="275.7" y1="603.3" x2="275.7" y2="604.8" stroke="#000" stroke-width="0.6"/>
<line x1="289.8" y1="603.3" x2="289.8" y2="604.8" stroke="#000" stroke-width="0.6"/>
<line x1="303.9" y1="603.3" x2="303.9" y2="604.8" stroke="#000" stroke-width="0.6"/>
<line x1="318.0" y1="603.3" x2="318.0" y2="604.8" stroke="#000" stroke-width="0.6"/>
<line x1="332.2" y1="603.3" x2="332.2" y2="604.8" stroke="#000" stroke-width="0.6"/>
<line x1="346.3" y1="603.3" x2="346.3" y2="604.8" stroke="#000" stroke-width="0.6"/>
<line x1="360.4" y1="603.3" x2="360.4" y2="604.8" stroke="#000" stroke-width="0.6"/>
<line x1="374.5" y1="603.3" x2="374.5" y2="604.8" stroke="#000" stroke-width="0.6"/>
<line x1="388.7" y1="603.3" x2="388.7" y2="604.8" stroke="#000" stroke-width="0.6"/>
<line x1="402.8" y1="603.3" x2="402.8" y2="604.8" stroke="#000" stroke-width="0.6"/>
<line x1="416.9" y1="603.3" x2="416.9" y2="604.8" stroke="#000" stroke-width="0.6"/>
<line x1="431.0" y1="603.3" x2="431.0" y2="604.8" stroke="#000" stroke-width="0.6"/>
<line x1="445.2" y1="603.3" x2="445.2" y2="604.8" stroke="#000" stroke-width="0.6"/>
<line x1="459.3" y1="603.3" x2="459.3" y2="604.8" stroke="#000" stroke-width="0.6"/>
<line x1="473.4" y1="603.3" x2="473.4" y2="604.8" stroke="#000" stroke-width="0.6"/>
<polyline points="48.8,494.1 62.0,494.2 70.0,494.6 165.0,494.7 190.0,497.0 215.0,499.3 245.0,498.9 275.0,498.7 305.0,501.2 350.0,501.2 370.0,501.8 381.5,502.4 396.0,503.3 404.6,505.6 416.1,508.5 427.7,511.3 439.2,514.2 450.8,516.2 462.3,517.7 473.3,519.1" fill="none" stroke="#000" stroke-width="2.2" stroke-linejoin="round"/>
<polyline points="48.3,596.5 65.0,596.2 88.8,596.2 92.5,595.0 96.2,597.0 102.5,599.5 108.8,599.5 113.8,601.8 116.2,601.2 118.8,598.8 121.2,600.5 125.0,599.5 132.5,595.8 140.0,594.5 145.0,592.5 155.0,591.2 165.0,590.5 170.0,588.0 177.5,580.0 183.8,573.0 190.0,570.5 200.0,568.5 223.8,568.5 226.2,571.2 230.0,585.0 233.8,597.5 237.5,605.0 240.0,606.2 243.0,603.8 246.2,596.2 249.5,591.2 253.8,590.8 270.0,592.5 272.5,596.2 276.2,603.5 280.0,606.0 283.8,603.8 287.5,596.2 291.2,585.0 295.0,576.2 298.0,573.0 302.5,572.5 317.5,573.0 320.0,576.2 323.8,588.8 327.5,600.0 331.2,605.8 333.8,607.0 337.0,605.0 340.0,598.8 343.0,594.2 346.2,593.2 352.5,594.5 361.2,594.2 366.2,591.2 372.5,583.8 378.8,575.0 383.8,572.0 397.4,571.9 400.3,568.2 404.6,549.4 408.9,527.8 413.3,507.6 416.7,494.6 419.6,488.8 423.4,488.0 433.5,489.7 443.6,490.3 446.4,493.2 450.8,503.3 455.1,516.2 459.4,530.7 462.3,537.9 466.6,540.8 473.3,540.2" fill="none" stroke="#000" stroke-width="1.32" stroke-linejoin="round"/>
<text x="71.2" y="563.99" text-anchor="middle" font-size="10.8" letter-spacing="0.2">L-DRG</text>
<line x1="64.2" y1="569.9" x2="64.2" y2="592" stroke="#000" stroke-width="2.3"/><polygon points="60.800000000000004,590.10 67.60000000000001,590.10 64.2,596.60" fill="#000"/>
<text x="108.4" y="568.09" text-anchor="middle" font-size="10.8" >P + M</text>
<line x1="102.4" y1="570" x2="102.4" y2="590.8" stroke="#000" stroke-width="2.3"/><polygon points="99.0,588.90 105.80000000000001,588.90 102.4,595.40" fill="#000"/>
<text x="165.3" y="557.69" text-anchor="middle" font-size="10.8" >ADP</text>
<line x1="163.8" y1="560.4" x2="163.8" y2="581.4" stroke="#000" stroke-width="2.3"/><polygon points="160.4,579.50 167.20000000000002,579.50 163.8,586.00" fill="#000"/>
<text x="227.6" y="547.59" text-anchor="middle" font-size="10.8" >OI</text>
<line x1="226.3" y1="551.3" x2="226.3" y2="562.2" stroke="#000" stroke-width="2.3"/><polygon points="222.9,560.30 229.70000000000002,560.30 226.3,566.80" fill="#000"/>
<text x="273.4" y="560.69" text-anchor="middle" font-size="10.8" >FCCP</text>
<line x1="268.8" y1="564.8" x2="268.8" y2="586.3" stroke="#000" stroke-width="2.3"/><polygon points="265.40000000000003,584.40 272.2,584.40 268.8,590.90" fill="#000"/>
<text x="318.7" y="548.09" text-anchor="middle" font-size="10.8" >AA</text>
<line x1="318.1" y1="554" x2="318.1" y2="565.2" stroke="#000" stroke-width="2.3"/><polygon points="314.70000000000005,563.30 321.5,563.30 318.1,569.80" fill="#000"/>
<text x="362.3" y="561.89" text-anchor="middle" font-size="10.8" >Asc</text>
<line x1="359.6" y1="565.7" x2="359.6" y2="585.7" stroke="#000" stroke-width="2.3"/><polygon points="356.20000000000005,583.80 363.0,583.80 359.6,590.30" fill="#000"/>
<text x="389" y="539.89" text-anchor="middle" font-size="10.8" >TMPD</text>
<line x1="393.1" y1="542.3" x2="393.1" y2="563" stroke="#000" stroke-width="2.3"/><polygon points="389.70000000000005,561.10 396.5,561.10 393.1,567.60" fill="#000"/>
<text x="449.2" y="477.89" text-anchor="start" font-size="10.8" >KCN</text>
<line x1="445.2" y1="476" x2="445.2" y2="482.6" stroke="#000" stroke-width="2.3"/><polygon points="441.8,480.70 448.59999999999997,480.70 445.2,487.20" fill="#000"/>
<text transform="translate(10.9,596.00) rotate(-90) scale(1.07,1)" font-size="10.8">O<tspan font-size="6.5" dy="2.2">2</tspan></text>
<text transform="translate(10.9,581.40) rotate(-90) scale(1.076,1)" font-size="10.8">concentration</text>
<text transform="translate(10.9,503.20) rotate(-90) scale(1.145,1)" font-size="10.8">(nmol/ml)</text>
<line x1="7.65" y1="607" x2="7.65" y2="631.4" stroke="#000" stroke-width="2.6"/>
<text transform="translate(517.1,597.20) rotate(-90) scale(1.07,1)" font-size="10.8">O<tspan font-size="6.5" dy="2.2">2</tspan></text>
<text transform="translate(517.1,582.90) rotate(-90) scale(1.13,1)" font-size="10.8">Flux</text>
<text transform="translate(517.1,556.10) rotate(-90) scale(1.118,1)" font-size="10.8">(pmol/s/mg</text>
<text transform="translate(517.1,490.40) rotate(-90) scale(1.1,1)" font-size="10.8">protein)</text>
<line x1="516.1" y1="604.4" x2="516.1" y2="628.3" stroke="#000" stroke-width="1.4"/>

<text x="246.5" y="641.49" text-anchor="middle" font-size="10.8" letter-spacing="-0.15">Time (hr:min)</text>
</svg>
</body></html>
